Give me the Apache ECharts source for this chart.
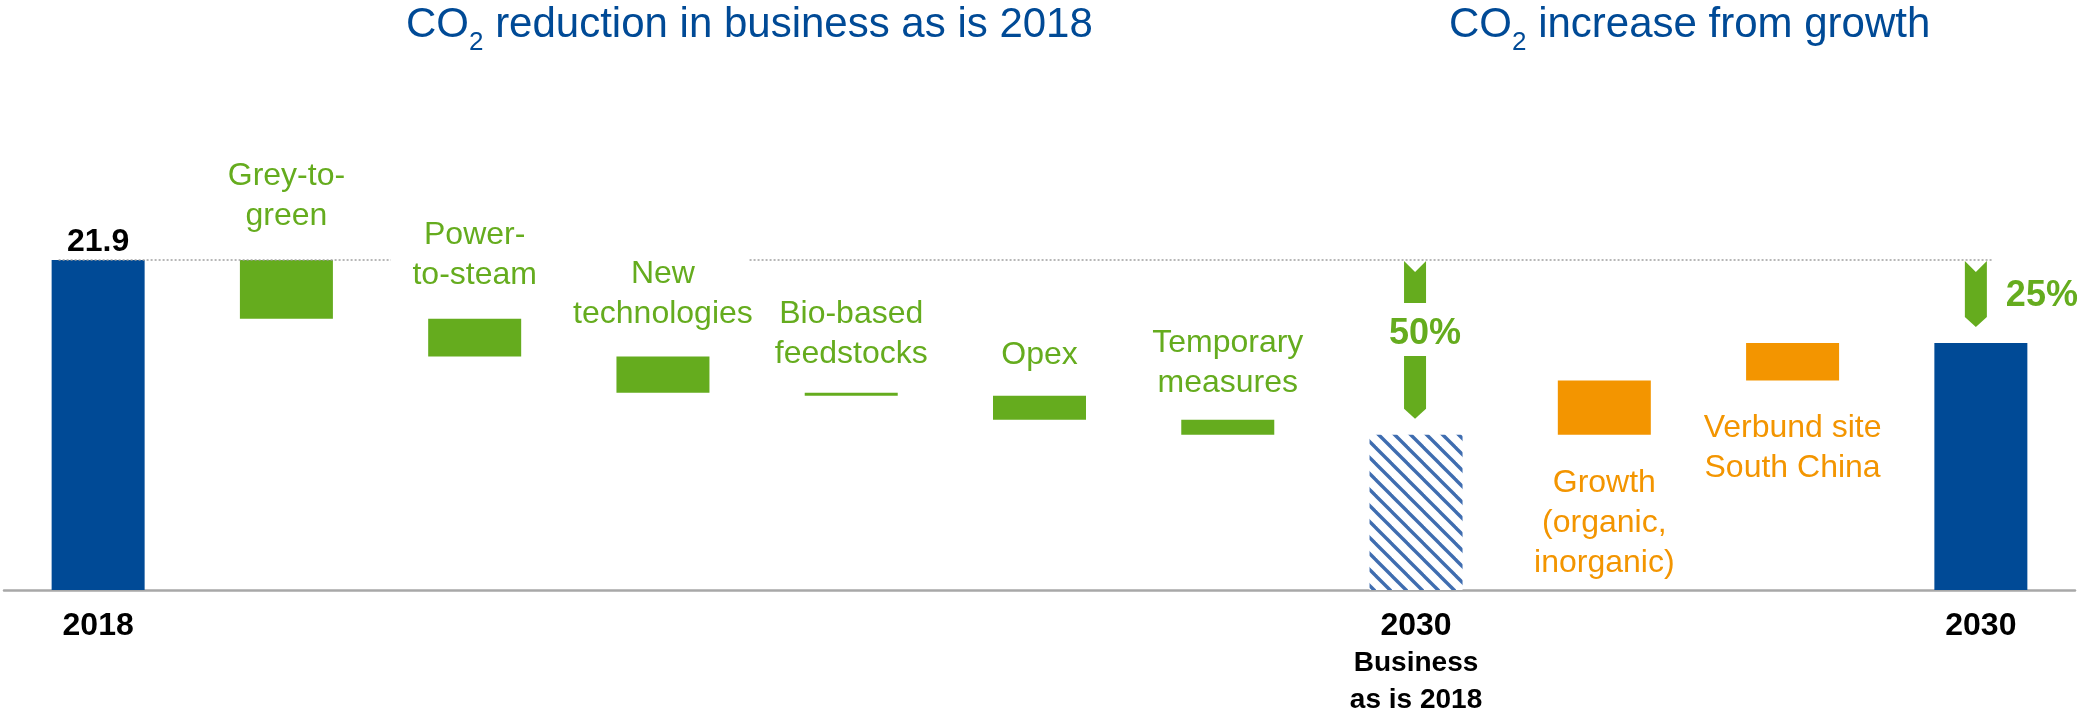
<!DOCTYPE html>
<html>
<head>
<meta charset="utf-8">
<script src="https://cdn.jsdelivr.net/npm/echarts@6/dist/echarts.min.js"></script>
<style>
  html, body { margin: 0; padding: 0; background: #ffffff; }
  #chart { width: 2082px; height: 717px; }
</style>
</head>
<body>
<div id="chart"></div>
<script>
// CO2 emissions bridge 2018 -> 2030 (million metric tons)
const categories = ['2018', 'Grey-to-green', 'Power-to-steam', 'New technologies', 'Bio-based feedstocks',
  'Opex', 'Temporary measures', '2030 business as is 2018', 'Growth', 'Verbund site South China', '2030'];
const stepLabels = ['', 'Grey-to-\ngreen', 'Power-\nto-steam', 'New\ntechnologies', 'Bio-based\nfeedstocks',
  'Opex', 'Temporary\nmeasures', '', 'Growth\n(organic,\ninorganic)', 'Verbund site\nSouth China', ''];
const start2018 = 21.9;
const reductions = [3.9, 2.5, 2.4, 0.2, 1.6, 1.0];   // steps between 2018 and 2030 business as is
const increases = [3.6, 2.5];                        // growth steps up to 2030
const tickYears = ['2018', '', '', '', '', '', '', '2030', '', '', '2030'];
const tickNotes = ['', '', '', '', '', '', '', 'Business\nas is 2018', '', '', ''];
const arrowLabels = ['50%', '25%'];
// guide line at the 2018 level, in category units
const guideSpans = [[-0.21, 1.555], [3.46, 10.06]];

const BLUE = '#004A96', GREEN = '#65AC1E', ORANGE = '#F39500';
const FONT = "'Liberation Sans', Arial, sans-serif";
// gap between each reduction bar and its caption
const reductionLabelGap = [24, 24, 22, 18, 20, 17];

const r1 = v => Math.round(v * 10) / 10;

// waterfall layers: invisible base + visible part
const base = [], totals = [], down = [], up = [];
let level = start2018;
base.push(0); totals.push({ value: start2018, label: { show: true } }); down.push('-'); up.push('-');
reductions.forEach((d, k) => {
  level = r1(level - d);
  base.push(level); totals.push('-');
  down.push({ value: d, label: { distance: reductionLabelGap[k] } });
  up.push('-');
});
const bau = level;
base.push(0); down.push('-'); up.push('-');
increases.forEach(d => {
  base.push(level); level = r1(level + d);
  totals.push('-'); down.push('-'); up.push(d);
});
const end2030 = level;
// hatched fill for the business-as-is bar
const hatch = document.createElement('canvas');
hatch.width = 16; hatch.height = 16;
const hg = hatch.getContext('2d');
hg.fillStyle = '#ffffff'; hg.fillRect(0, 0, 16, 16);
hg.strokeStyle = '#3F6DB0'; hg.lineWidth = 3.4;
for (const o of [-16, 0, 16]) {
  hg.beginPath(); hg.moveTo(o - 2, -2); hg.lineTo(o + 18, 18); hg.stroke();
}
totals.splice(7, 0, { value: bau, itemStyle: { color: { image: hatch, repeat: 'repeat' } } });
base.push(0); totals.push(end2030); down.push('-'); up.push('-');

const arrowData = [[7, start2018, bau], [10, start2018, end2030]];

const titleRich = {
  a: { fontSize: 42, fontWeight: 'normal', fontFamily: FONT, color: BLUE, lineHeight: 46, verticalAlign: 'top' },
  b: { fontSize: 26, fontWeight: 'normal', fontFamily: FONT, color: BLUE, lineHeight: 26, padding: [26, 0, 0, 0], verticalAlign: 'top' }
};
const titleText = { fontWeight: 'normal', fontFamily: FONT, color: BLUE, rich: titleRich };

const chart = echarts.init(document.getElementById('chart'), null, { renderer: 'canvas' });
chart.setOption({
  animation: false,
  backgroundColor: '#ffffff',
  title: [
    { text: '{a|CO}{b|2}{a| reduction in business as is 2018}', left: 406, top: 4, padding: 0, textStyle: titleText },
    { text: '{a|CO}{b|2}{a| increase from growth}', left: 1449, top: 4, padding: 0, textStyle: titleText }
  ],
  grid: { left: 4, right: 7, top: 138, bottom: 127, containLabel: false, outerBoundsMode: 'none' },
  xAxis: [
    {
      type: 'category', data: categories,
      axisTick: { show: false },
      axisLine: { lineStyle: { color: '#A8A8A8', width: 2.5 } },
      axisLabel: {
        interval: 0, margin: 18,
        formatter: (v, i) => {
          if (!tickYears[i]) return '';
          let s = '{y|' + tickYears[i] + '}';
          if (tickNotes[i]) s += '\n' + tickNotes[i].split('\n').map(t => '{s|' + t + '}').join('\n');
          return s;
        },
        rich: {
          y: { fontSize: 32, fontWeight: 'bold', fontFamily: FONT, color: '#000', lineHeight: 37 },
          s: { fontSize: 28, fontWeight: 'bold', fontFamily: FONT, color: '#000', lineHeight: 37 }
        }
      }
    },
    { type: 'value', min: -0.5, max: 10.5, show: false }
  ],
  yAxis: { type: 'value', min: 0, max: 30, show: false, splitLine: { show: false } },
  series: [
    {
      name: 'base', type: 'bar', stack: 'w', barWidth: 93, silent: true,
      itemStyle: { color: 'transparent' }, data: base
    },
    {
      name: 'total', type: 'bar', stack: 'w', barWidth: 93,
      itemStyle: { color: BLUE },
      label: {
        show: false, position: 'top', distance: 2,
        fontSize: 32, fontWeight: 'bold', fontFamily: FONT, color: '#000', lineHeight: 32,
        formatter: p => String(p.value)
      },
      data: totals
    },
    {
      name: 'reduction', type: 'bar', stack: 'w', barWidth: 93,
      itemStyle: { color: GREEN },
      label: {
        show: true, position: 'top', distance: 24,
        fontSize: 32, fontFamily: FONT, color: GREEN, lineHeight: 40, align: 'center',
        formatter: p => stepLabels[p.dataIndex]
      },
      data: down
    },
    {
      name: 'increase', type: 'bar', stack: 'w', barWidth: 93,
      itemStyle: { color: ORANGE },
      label: {
        show: true, position: 'bottom', distance: 28,
        fontSize: 32, fontFamily: FONT, color: ORANGE, lineHeight: 40, align: 'center',
        formatter: p => stepLabels[p.dataIndex]
      },
      data: up
    },
    ...guideSpans.map(s => ({
      type: 'line', xAxisIndex: 1, yAxisIndex: 0, silent: true, symbol: 'none', z: 5,
      lineStyle: { color: '#A0A0A0', width: 1.6, type: [2, 2] },
      data: [[s[0], start2018], [s[1], start2018]]
    })),
    {
      type: 'custom', xAxisIndex: 0, yAxisIndex: 0, silent: true, z: 6,
      data: arrowData,
      renderItem: (params, api) => {
        const i = params.dataIndex;
        const cx = api.coord([api.value(0), 0])[0] + (i === 0 ? -1 : -5);
        const yTop = api.coord([api.value(0), api.value(1)])[1] + 1;
        const yEnd = api.coord([api.value(0), api.value(2)])[1] - 16;
        const hw = 11, notch = 11, tip = 10;
        const style = { fill: GREEN };
        const txt = { fill: GREEN, fontSize: 36, fontWeight: 'bold', fontFamily: FONT, verticalAlign: 'middle' };
        const children = [];
        if (i === 0) {
          const gTop = yTop + 42, gBot = yTop + 95;
          children.push({ type: 'polygon', shape: { points: [[cx - hw, yTop], [cx, yTop + notch], [cx + hw, yTop], [cx + hw, gTop], [cx - hw, gTop]] }, style });
          children.push({ type: 'polygon', shape: { points: [[cx - hw, gBot], [cx + hw, gBot], [cx + hw, yEnd - tip], [cx, yEnd], [cx - hw, yEnd - tip]] }, style });
          children.push({ type: 'text', style: Object.assign({ text: arrowLabels[i], x: cx + 10, y: yTop + 73, align: 'center' }, txt) });
        } else {
          children.push({ type: 'polygon', shape: { points: [[cx - hw, yTop], [cx, yTop + notch], [cx + hw, yTop], [cx + hw, yEnd - tip], [cx, yEnd], [cx - hw, yEnd - tip]] }, style });
          children.push({ type: 'text', style: Object.assign({ text: arrowLabels[i], x: cx + 30, y: (yTop + yEnd) / 2 + 2, align: 'left' }, txt) });
        }
        return { type: 'group', children };
      }
    }
  ]
});
</script>
</body>
</html>
